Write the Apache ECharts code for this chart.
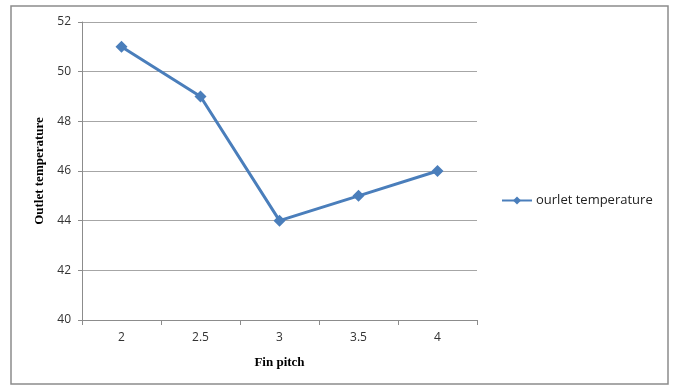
<!DOCTYPE html>
<html>
<head>
<meta charset="utf-8">
<script src="https://cdn.jsdelivr.net/npm/echarts@6/dist/echarts.min.js"></script>
<style>
  html, body { margin: 0; padding: 0; background: #fff; }
  #chart { width: 675px; height: 389px; }
</style>
</head>
<body>
<div id="chart"></div>
<script>
// Fin pitch vs. outlet temperature
const finPitch = ['2', '2.5', '3', '3.5', '4'];
const outletTemp = [51, 49, 44, 45, 46];
const seriesName = 'ourlet temperature';

const chart = echarts.init(document.getElementById('chart'), null, { renderer: 'canvas' });

const labelFont = { fontFamily: 'Open Sans, Liberation Sans, sans-serif', fontSize: 12, color: '#333' };
const titleFont = { fontFamily: 'Liberation Serif, Times New Roman, serif', fontSize: 13, fontWeight: 'bold', color: '#000' };

chart.setOption({
  animation: false,
  backgroundColor: '#fff',
  graphic: [{
    type: 'rect',
    shape: { x: 11, y: 6, width: 657, height: 378 },
    style: { fill: 'none', stroke: '#8c8c8c', lineWidth: 1.5 },
    silent: true
  }],
  grid: { left: 82, right: 198, top: 22, bottom: 69 },
  legend: {
    data: [seriesName],
    left: 496,
    top: 189,
    itemWidth: 30,
    itemHeight: 10,
    itemGap: 4,
    textStyle: { ...labelFont, fontSize: 13, color: '#222', padding: [0, 0, 0, -1] }
  },
  xAxis: {
    type: 'category',
    data: finPitch,
    boundaryGap: true,
    name: 'Fin pitch',
    nameLocation: 'middle',
    nameGap: 36,
    nameTextStyle: titleFont,
    axisLine: { lineStyle: { color: '#8c8c8c', width: 1 } },
    axisTick: { show: true, length: 5, lineStyle: { color: '#8c8c8c' } },
    axisLabel: { ...labelFont, margin: 12 },
    splitLine: { show: false }
  },
  yAxis: {
    type: 'value',
    min: 40,
    max: 52,
    interval: 2,
    name: 'Outlet temperature',
    nameLocation: 'middle',
    nameGap: 36,
    nameRotate: 90,
    nameTextStyle: titleFont,
    axisLine: { show: true, lineStyle: { color: '#8c8c8c', width: 1 } },
    axisTick: { show: true, length: 4, lineStyle: { color: '#8c8c8c' } },
    axisLabel: { ...labelFont, margin: 11 },
    splitLine: { show: true, lineStyle: { color: '#a6a6a6', width: 1 } }
  },
  series: [{
    name: seriesName,
    type: 'line',
    data: outletTemp,
    symbol: 'diamond',
    symbolSize: 12,
    itemStyle: { color: '#4a7ebb' },
    lineStyle: { color: '#4a7ebb', width: 3 }
  }]
});
</script>
</body>
</html>
